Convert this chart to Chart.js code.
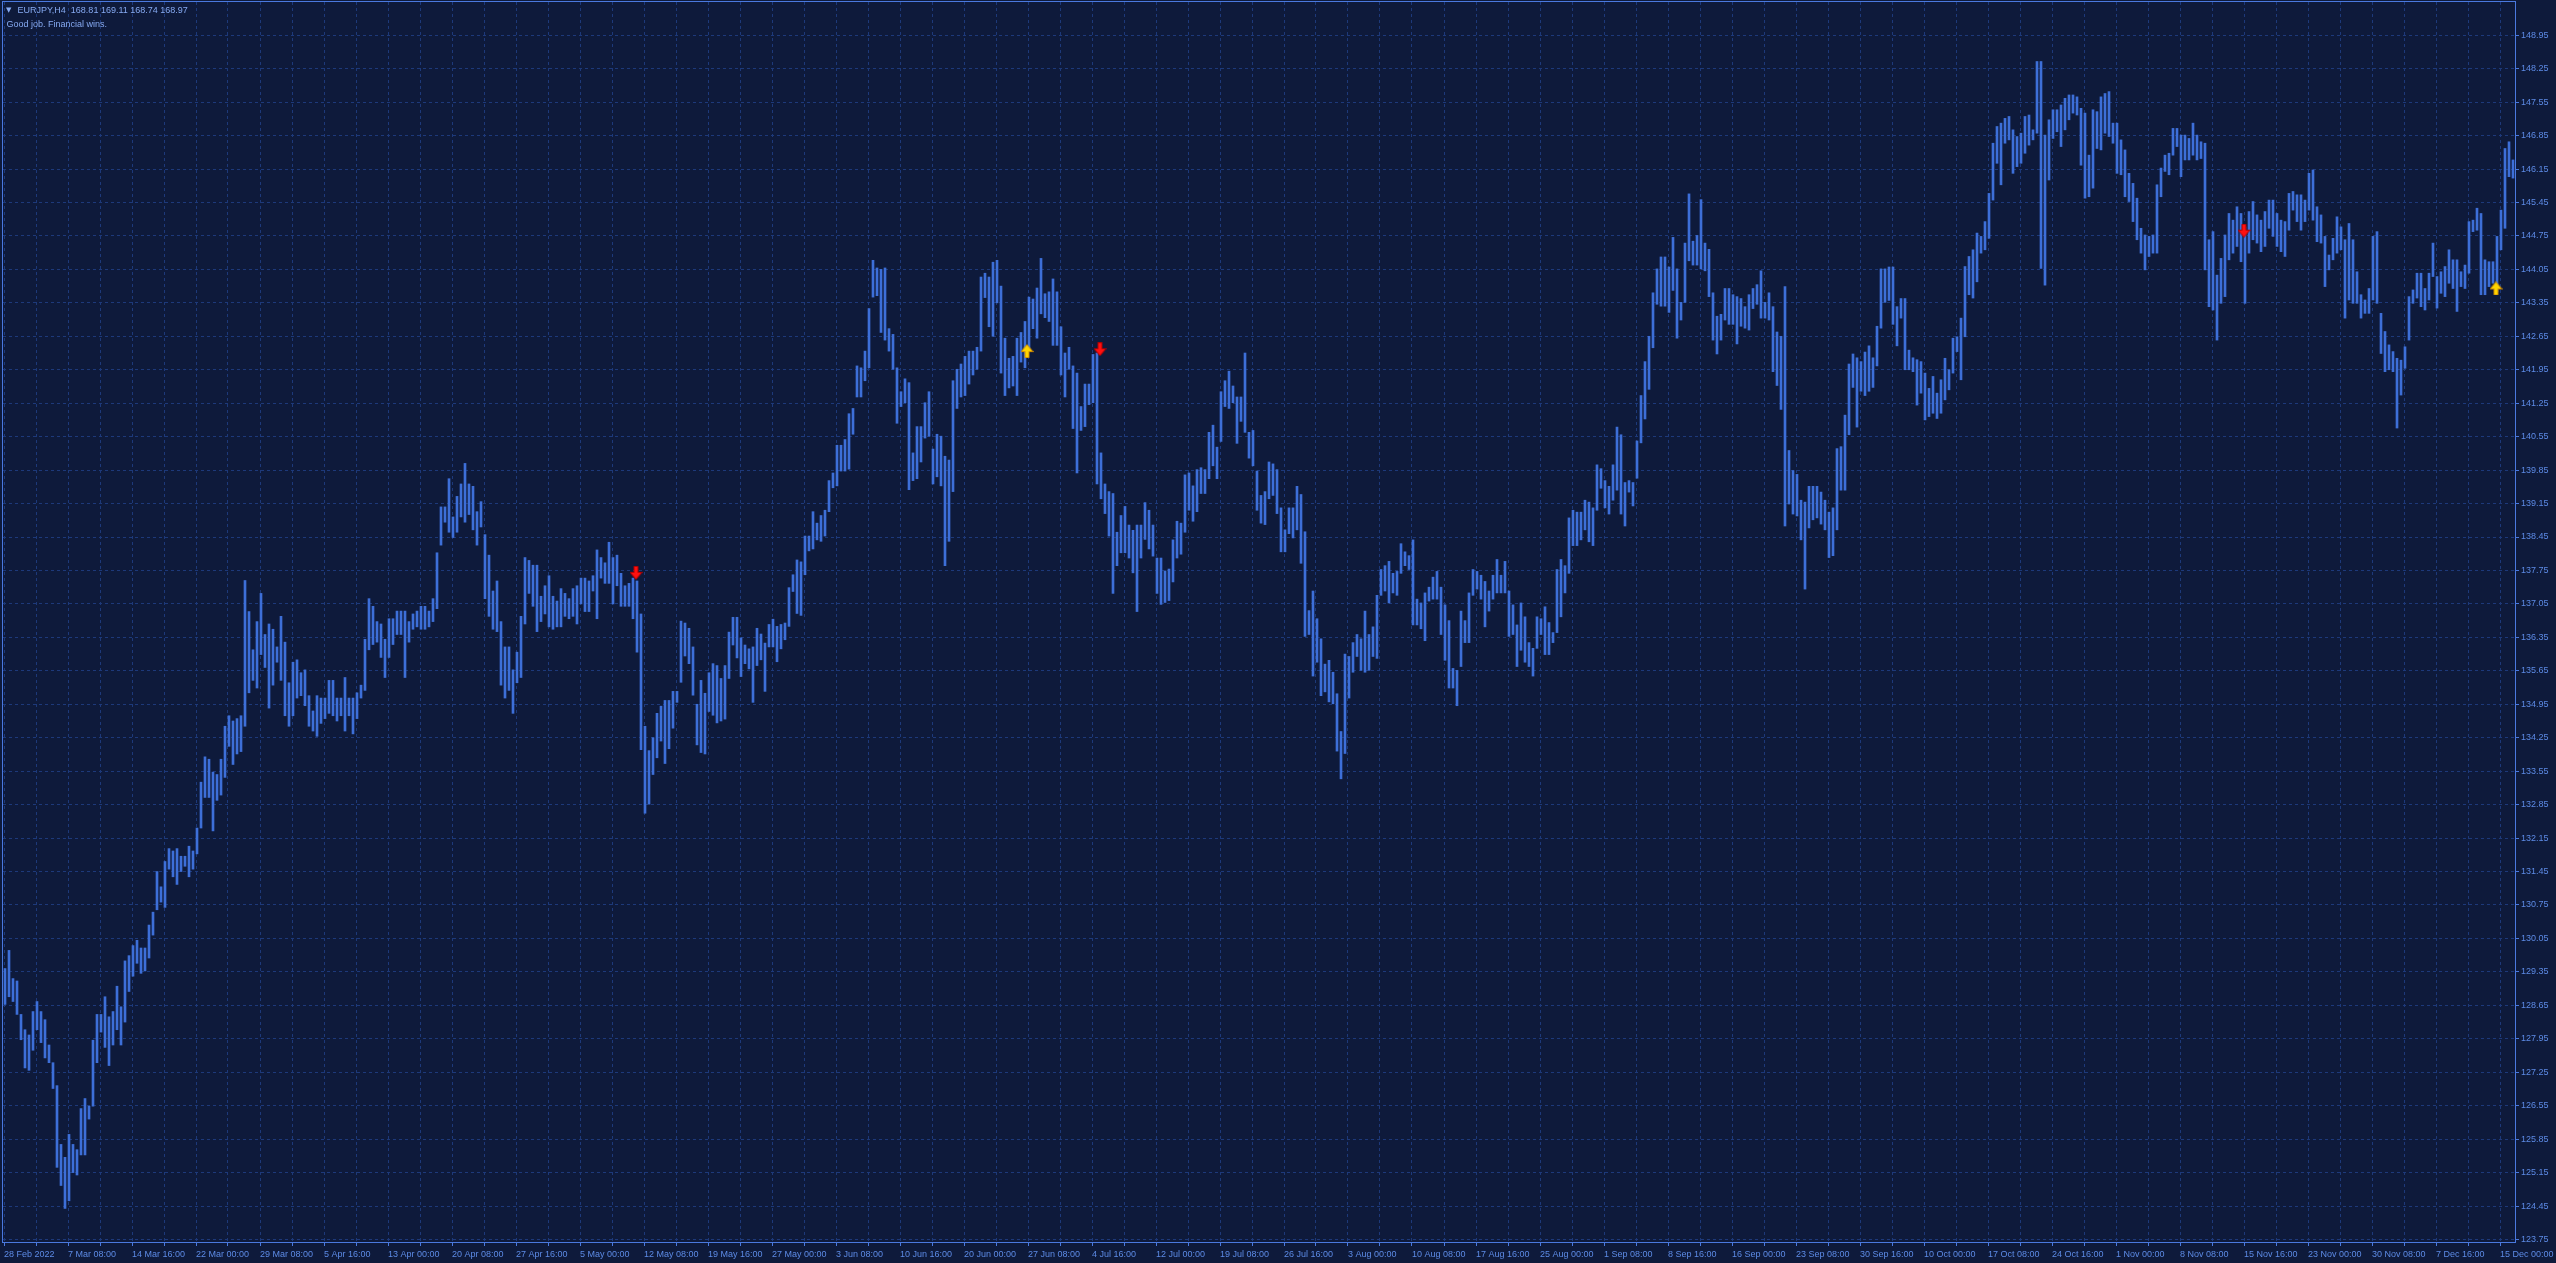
<!DOCTYPE html>
<html>
<head>
<meta charset="utf-8">
<title>EURJPY,H4</title>
<script src="https://cdn.jsdelivr.net/npm/chart.js@4.4.1/dist/chart.umd.min.js"></script>
<style>
  html, body { margin: 0; padding: 0; background: #0e1a3b; overflow: hidden; }
  #wrap { position: relative; width: 2556px; height: 1263px; }
</style>
</head>
<body>
<div id="wrap"><canvas id="chart"></canvas></div>
<script>
// header texts
const symbolLine = 'EURJPY,H4  168.81 169.11 168.74 168.97';
const commentLine = 'Good job. Financial wins.';

// each entry = 2 H4 bars (high / low of the pair), one row = one time label step (32 bars)
const barsPerGroup = 2;
const highs = [
  129.42, 129.80, 129.21, 129.16, 128.46, 128.14, 128.03, 128.52, 128.73, 128.52, 128.35, 127.82, 127.45, 126.97, 125.74, 125.47,
  125.95, 125.74, 125.63, 126.49, 126.70, 126.54, 127.92, 128.46, 128.46, 128.83, 128.41, 128.52, 129.05, 128.62, 129.58, 129.69,
  129.90, 130.01, 129.85, 129.85, 130.33, 130.60, 131.45, 131.13, 131.66, 131.93, 131.88, 131.93, 131.77, 131.77, 131.98, 131.88,
  132.36, 133.32, 133.85, 133.80, 133.53, 133.48, 133.80, 134.49, 134.71, 134.60, 134.65, 134.71, 137.54, 136.89, 136.09, 136.68,
  137.27, 136.41, 136.63, 136.52, 136.15, 136.79, 136.25, 135.40, 135.83, 135.88, 135.61, 135.67, 135.13, 134.81, 135.13, 135.08,
  135.08, 135.45, 135.45, 135.08, 135.08, 135.51, 135.08, 135.08, 135.19, 135.35, 136.31, 137.16, 137.00, 136.68, 136.63, 136.31,
  136.74, 136.74, 136.90, 136.90, 136.90, 136.68, 136.84, 136.90, 137.00, 137.00, 136.90, 137.16, 138.12, 139.08, 139.08, 139.67,
  138.87, 139.30, 139.56, 139.99, 139.56, 139.51, 138.98, 139.19, 138.50, 138.07, 137.32, 137.53, 136.68, 136.15, 136.15, 135.67,
  136.04, 136.79, 138.02, 137.96, 137.86, 137.86, 137.21, 137.43, 137.64, 137.21, 137.11, 137.37, 137.27, 137.16, 137.37, 137.43,
  137.59, 137.59, 137.53, 137.64, 138.18, 138.02, 137.91, 138.34, 138.02, 138.07, 137.69, 137.43, 137.48, 137.59, 137.53, 136.84,
  134.49, 133.98, 134.25, 134.76, 134.91, 135.03, 135.03, 135.22, 135.22, 136.69, 136.65, 136.54, 136.15, 134.95, 135.45, 135.18,
  135.61, 135.80, 135.76, 135.49, 135.76, 136.46, 136.77, 136.77, 136.34, 136.19, 136.11, 136.15, 136.54, 136.42, 136.23, 136.62,
  136.73, 136.58, 136.62, 136.65, 137.39, 137.66, 137.97, 137.93, 138.47, 138.47, 138.98, 138.74, 138.90, 139.01, 139.63, 139.79,
  140.37, 140.37, 140.49, 141.03, 141.14, 142.03, 141.99, 142.34, 143.23, 144.24, 144.08, 144.05, 144.08, 142.81, 142.69, 141.99,
  141.49, 141.76, 141.68, 140.21, 140.76, 140.76, 141.26, 141.49, 140.29, 140.60, 140.56, 140.14, 140.06, 141.72, 141.96, 142.07,
  142.23, 142.34, 142.34, 142.42, 143.89, 143.97, 143.89, 144.20, 144.24, 143.70, 142.61, 142.19, 142.23, 142.61, 142.73, 142.96,
  143.47, 143.43, 143.66, 144.28, 143.54, 143.58, 143.85, 143.58, 142.85, 142.30, 142.42, 142.03, 141.88, 141.18, 141.65, 141.65,
  142.27, 142.30, 140.21, 139.56, 139.40, 139.36, 138.55, 138.90, 139.09, 138.70, 138.59, 138.70, 138.70, 139.17, 139.01, 138.70,
  138.01, 138.01, 137.74, 137.78, 138.39, 138.78, 138.74, 139.75, 139.79, 139.52, 139.86, 139.90, 139.86, 140.64, 140.79, 140.33,
  141.49, 141.72, 141.92, 141.61, 141.38, 141.38, 142.30, 140.64, 140.68, 139.83, 139.32, 139.40, 140.02, 139.98, 139.86, 139.06,
  138.60, 139.06, 139.06, 139.51, 139.34, 138.56, 136.91, 137.32, 136.74, 136.32, 135.79, 135.87, 135.62, 135.17, 134.38, 136.00,
  135.95, 136.24, 136.41, 136.32, 136.90, 136.41, 136.57, 137.23, 137.77, 137.85, 137.94, 137.69, 137.73, 138.31, 138.14, 138.06,
  138.39, 137.15, 137.07, 137.28, 137.40, 137.61, 137.73, 137.40, 137.03, 136.70, 135.70, 135.66, 136.90, 136.70, 137.28, 137.77,
  137.73, 137.65, 137.52, 137.32, 137.65, 137.98, 137.65, 137.94, 137.32, 137.03, 136.61, 137.07, 136.78, 136.24, 136.12, 136.78,
  136.74, 136.99, 136.66, 136.45, 137.77, 137.98, 137.85, 138.85, 139.01, 138.97, 138.97, 139.22, 139.18, 139.06, 139.96, 139.88,
  139.63, 139.51, 139.96, 140.75, 140.59, 139.59, 139.63, 139.59, 140.46, 141.41, 142.12, 142.65, 143.56, 144.06, 144.31, 144.31,
  144.10, 144.72, 144.06, 143.36, 144.60, 145.63, 144.64, 144.76, 145.51, 144.60, 144.47, 143.56, 143.07, 143.11, 143.65, 143.65,
  143.52, 143.48, 143.44, 143.27, 143.52, 143.65, 143.73, 144.02, 143.36, 143.56, 143.27, 142.74, 142.65, 143.69, 140.26, 139.84,
  139.76, 139.22, 139.18, 139.51, 139.51, 139.51, 139.39, 139.22, 138.97, 139.06, 140.30, 140.34, 141.00, 142.07, 142.28, 142.20,
  142.12, 142.32, 142.45, 142.20, 142.86, 144.06, 144.06, 144.10, 144.10, 143.27, 143.44, 143.44, 142.36, 142.20, 142.16, 142.12,
  141.88, 141.56, 141.81, 141.46, 141.74, 142.19, 141.95, 142.61, 142.64, 143.03, 144.11, 144.32, 144.46, 144.81, 144.74, 145.05,
  145.64, 146.69, 147.04, 147.11, 147.21, 147.25, 146.97, 146.83, 146.90, 147.25, 147.28, 146.97, 148.40, 148.40, 146.86, 147.18,
  147.39, 147.39, 147.49, 147.63, 147.70, 147.70, 147.66, 147.42, 147.32, 146.44, 147.39, 147.35, 147.66, 147.73, 147.77, 147.11,
  147.11, 146.76, 146.55, 146.06, 145.85, 145.54, 144.91, 144.77, 144.74, 144.77, 145.82, 146.17, 146.44, 146.48, 147.00, 147.00,
  146.86, 146.86, 146.79, 147.11, 146.86, 146.72, 146.69, 144.67, 144.84, 143.93, 144.28, 144.77, 145.22, 145.08, 145.36, 145.22,
  144.94, 145.26, 145.47, 145.19, 145.08, 145.26, 145.50, 145.50, 145.22, 145.08, 145.05, 145.64, 145.68, 145.61, 145.61, 145.50,
  146.06, 146.13, 145.36, 145.19, 144.74, 144.35, 144.70, 145.15, 144.94, 144.67, 145.01, 144.67, 144.00, 143.52, 143.41, 143.65,
  144.74, 144.84, 143.13, 142.75, 142.47, 142.33, 142.19, 142.15, 142.43, 143.48, 143.62, 143.97, 143.97, 143.65, 143.97, 144.60,
  143.90, 144.00, 144.11, 144.46, 144.25, 144.25, 144.00, 144.14, 145.05, 145.08, 145.33, 145.22, 144.25, 144.21, 144.21, 144.74,
  145.29, 146.58, 146.72, 146.34
];
const lows = [
  128.67, 128.83, 128.73, 128.46, 127.93, 127.34, 127.29, 127.71, 128.14, 127.87, 127.55, 127.45, 126.91, 125.26, 124.88, 124.40,
  124.56, 125.15, 125.10, 125.52, 125.52, 126.27, 126.54, 127.45, 128.09, 127.77, 127.39, 127.82, 128.14, 127.82, 128.30, 128.94,
  129.26, 129.53, 129.32, 129.37, 129.64, 130.12, 130.65, 130.81, 130.70, 131.50, 131.34, 131.18, 131.45, 131.56, 131.34, 131.50,
  131.82, 132.36, 133.00, 133.00, 132.30, 132.94, 133.05, 133.42, 134.07, 133.69, 133.91, 133.96, 134.49, 135.19, 135.45, 135.29,
  135.99, 135.72, 134.87, 135.35, 135.83, 135.45, 134.71, 134.49, 134.71, 135.08, 135.13, 134.92, 134.49, 134.39, 134.28, 134.55,
  134.65, 134.76, 134.71, 134.60, 134.71, 134.39, 134.71, 134.33, 134.65, 135.08, 135.24, 136.09, 136.20, 136.25, 135.93, 135.51,
  135.93, 136.20, 136.41, 136.41, 135.51, 136.25, 136.52, 136.57, 136.52, 136.52, 136.57, 136.68, 136.95, 138.28, 138.76, 138.55,
  138.44, 138.55, 138.87, 138.76, 138.92, 138.60, 138.28, 138.66, 137.16, 136.79, 136.52, 136.47, 135.35, 135.08, 135.24, 134.76,
  135.40, 135.51, 136.63, 137.27, 137.00, 136.47, 136.68, 136.84, 136.57, 136.52, 136.57, 136.57, 136.79, 136.74, 136.79, 136.63,
  137.05, 136.89, 136.89, 137.32, 136.74, 137.59, 137.48, 137.48, 137.05, 137.43, 137.00, 137.00, 137.00, 136.74, 136.04, 134.00,
  132.67, 132.86, 133.48, 133.83, 134.18, 133.71, 134.02, 134.45, 134.99, 135.41, 135.96, 135.80, 135.14, 134.10, 133.94, 133.91,
  134.80, 134.72, 134.56, 134.60, 134.64, 135.49, 136.19, 135.92, 135.53, 135.80, 135.69, 134.99, 135.76, 135.88, 135.22, 136.15,
  136.15, 135.84, 136.11, 136.30, 136.58, 137.31, 136.85, 136.81, 137.66, 138.16, 138.20, 138.39, 138.36, 138.47, 138.98, 139.48,
  139.52, 139.83, 139.83, 139.87, 140.60, 141.38, 141.38, 141.72, 141.99, 143.47, 143.50, 142.73, 142.57, 142.34, 141.96, 140.83,
  141.18, 141.26, 139.44, 139.63, 139.67, 140.02, 140.52, 140.56, 139.56, 139.71, 139.52, 137.85, 138.36, 139.40, 141.14, 141.38,
  141.41, 141.65, 141.84, 141.96, 142.34, 143.46, 142.85, 142.65, 143.35, 141.88, 141.41, 141.57, 141.61, 141.41, 142.11, 141.99,
  142.34, 142.81, 142.61, 143.12, 143.04, 142.96, 142.46, 142.46, 141.84, 141.38, 141.96, 140.72, 139.79, 140.68, 140.76, 141.22,
  141.26, 139.56, 139.25, 138.94, 138.47, 137.27, 137.85, 138.12, 138.12, 138.01, 137.70, 136.89, 138.01, 138.40, 138.20, 138.05,
  137.27, 137.04, 137.08, 137.12, 137.51, 138.01, 138.09, 138.55, 139.01, 138.78, 138.98, 139.36, 139.36, 139.67, 139.94, 139.67,
  140.45, 141.18, 141.14, 141.26, 140.41, 140.87, 140.64, 140.10, 139.94, 139.01, 138.74, 138.71, 139.25, 139.32, 138.94, 138.14,
  138.14, 138.52, 138.43, 138.60, 137.90, 136.37, 136.41, 135.54, 135.83, 135.13, 135.21, 135.00, 134.96, 133.97, 133.39, 133.92,
  135.08, 135.62, 135.95, 135.66, 135.62, 135.66, 135.95, 135.91, 137.23, 137.32, 137.07, 137.28, 137.23, 137.69, 137.85, 137.77,
  136.61, 136.61, 136.53, 136.28, 137.11, 137.15, 137.15, 136.41, 135.87, 135.29, 135.29, 134.92, 135.74, 136.24, 136.24, 137.23,
  137.36, 137.15, 136.57, 136.90, 137.15, 137.28, 137.28, 137.28, 136.37, 136.41, 135.74, 136.08, 135.83, 135.74, 135.54, 136.12,
  136.41, 135.99, 135.99, 136.24, 136.45, 136.78, 137.28, 137.69, 138.27, 138.27, 138.39, 138.60, 138.35, 138.27, 139.01, 139.47,
  139.06, 138.93, 139.22, 139.43, 138.93, 138.68, 139.39, 139.10, 139.68, 140.42, 140.92, 141.54, 142.41, 143.32, 143.28, 143.28,
  143.15, 143.61, 142.61, 142.99, 143.36, 144.23, 144.14, 144.14, 144.06, 144.02, 143.48, 142.57, 142.28, 142.57, 142.99, 142.90,
  142.90, 142.49, 142.86, 142.82, 142.78, 143.23, 143.32, 143.03, 143.03, 142.99, 141.91, 141.62, 141.12, 138.68, 139.14, 138.93,
  138.89, 138.39, 137.36, 138.64, 138.81, 138.85, 138.72, 138.60, 138.02, 138.06, 138.60, 139.43, 139.43, 140.59, 141.58, 140.75,
  141.50, 141.41, 141.50, 141.58, 142.03, 142.82, 143.36, 143.40, 142.90, 142.45, 143.03, 141.95, 141.95, 141.91, 141.21, 141.46,
  140.90, 140.97, 141.04, 140.93, 141.04, 141.32, 141.53, 141.88, 142.33, 141.74, 142.64, 143.52, 143.45, 143.79, 144.39, 144.46,
  144.70, 145.50, 146.27, 145.82, 146.69, 146.76, 146.06, 146.20, 146.27, 146.48, 146.65, 146.76, 146.90, 144.07, 143.72, 145.92,
  146.79, 146.93, 146.62, 146.97, 147.18, 147.32, 147.28, 146.23, 145.54, 145.57, 145.75, 146.58, 146.55, 146.90, 146.83, 146.69,
  146.06, 146.03, 145.57, 145.47, 145.05, 144.67, 144.39, 144.04, 144.32, 144.39, 144.39, 145.57, 146.10, 146.03, 146.44, 146.62,
  145.99, 146.34, 146.34, 146.44, 146.34, 146.37, 144.04, 143.27, 143.20, 142.57, 143.34, 143.48, 144.25, 144.39, 144.53, 144.21,
  143.34, 144.39, 144.67, 144.60, 144.42, 144.53, 144.91, 144.74, 144.53, 144.42, 144.32, 144.87, 145.29, 145.05, 144.87, 145.05,
  145.29, 145.08, 144.63, 144.60, 143.69, 144.04, 144.25, 144.39, 144.46, 143.03, 143.41, 143.34, 143.34, 143.03, 143.13, 143.13,
  143.41, 143.34, 142.29, 141.91, 141.95, 141.91, 140.73, 141.42, 141.98, 142.57, 143.34, 143.45, 143.27, 143.20, 143.41, 143.90,
  143.24, 143.55, 143.48, 143.76, 143.65, 143.17, 143.69, 143.65, 143.97, 144.84, 144.87, 143.52, 143.52, 143.69, 143.76, 143.58,
  144.46, 144.91, 145.99, 145.96
];

// time axis: one label every 32 bars
const timeLabels = [
  '28 Feb 2022', '7 Mar 08:00', '14 Mar 16:00', '22 Mar 00:00', '29 Mar 08:00',
  '5 Apr 16:00', '13 Apr 00:00', '20 Apr 08:00', '27 Apr 16:00', '5 May 00:00',
  '12 May 08:00', '19 May 16:00', '27 May 00:00', '3 Jun 08:00', '10 Jun 16:00',
  '20 Jun 00:00', '27 Jun 08:00', '4 Jul 16:00', '12 Jul 00:00', '19 Jul 08:00',
  '26 Jul 16:00', '3 Aug 00:00', '10 Aug 08:00', '17 Aug 16:00', '25 Aug 00:00',
  '1 Sep 08:00', '8 Sep 16:00', '16 Sep 00:00', '23 Sep 08:00', '30 Sep 16:00',
  '10 Oct 00:00', '17 Oct 08:00', '24 Oct 16:00', '1 Nov 00:00', '8 Nov 08:00',
  '15 Nov 16:00', '23 Nov 00:00', '30 Nov 08:00', '7 Dec 16:00', '15 Dec 00:00'
];
const barsPerLabel = 32;

// price axis
const priceTicks = [
  148.95, 148.25, 147.55, 146.85, 146.15, 145.45, 144.75, 144.05, 143.35, 142.65,
  141.95, 141.25, 140.55, 139.85, 139.15, 138.45, 137.75, 137.05, 136.35, 135.65,
  134.95, 134.25, 133.55, 132.85, 132.15, 131.45, 130.75, 130.05, 129.35, 128.65,
  127.95, 127.25, 126.55, 125.85, 125.15, 124.45, 123.75
];

// signal arrows (bar index, price)
const sellBars = [316, 548, 1120];
const sellPrices = [137.70, 142.38, 144.86];
const buyBars = [511.5, 1246];
const buyPrices = [142.34, 143.65];

(function () {
  const COLORS = {
    bar: '#3d6fd8',
    grid: '#1d397a',
    frame: '#4a79df',
    label: '#5d8be6',
    header: '#86aaf2'
  };
  const FONT = 'Liberation Sans, Arial, sans-serif';

  // small arrow sprites like the terminal's signal arrows
  function makeArrow(fill, edge, up) {
    var c = document.createElement('canvas');
    c.width = 13;
    c.height = 14;
    var ctx = c.getContext('2d');
    var pts = [[4.5, 0.5], [8.5, 0.5], [8.5, 6.5], [12.5, 6.5], [6.5, 13.5], [0.5, 6.5], [4.5, 6.5]];
    ctx.beginPath();
    pts.forEach(function (p, i) {
      var y = up ? 14 - p[1] : p[1];
      if (i === 0) ctx.moveTo(p[0], y);
      else ctx.lineTo(p[0], y);
    });
    ctx.closePath();
    ctx.fillStyle = fill;
    ctx.fill();
    ctx.strokeStyle = edge;
    ctx.lineWidth = 1;
    ctx.stroke();
    return c;
  }

  const sellArrow = makeArrow('#ff1010', '#b00000', false);
  const buyArrow = makeArrow('#ffd400', '#d08a00', true);

  // grid every 16 bars, labels every 32
  var gridBars = [];
  for (var b = 0; b <= (timeLabels.length - 1) * barsPerLabel; b += barsPerLabel / 2) gridBars.push(b);

  // frame + header text
  const chartDecor = {
    id: 'chartDecor',
    afterDraw: function (chart) {
      var a = chart.chartArea;
      var ctx = chart.ctx;
      ctx.save();
      ctx.strokeStyle = COLORS.frame;
      ctx.lineWidth = 1;
      ctx.strokeRect(a.left - 0.5, a.top - 0.5, a.right - a.left + 1, a.bottom - a.top + 1);

      ctx.fillStyle = COLORS.header;
      ctx.textBaseline = 'alphabetic';
      ctx.font = '7px DejaVu Sans';
      ctx.fillText('\u25BC', 6, 12);
      ctx.font = '9px ' + FONT;
      ctx.fillText(symbolLine, 17.5, 13);
      ctx.fillText(commentLine, 6.5, 26.5);
      ctx.restore();
    }
  };

  var ctx = document.getElementById('chart');
  new Chart(ctx, {
    data: {
      datasets: [
        {
          type: 'scatter',
          data: sellBars.map(function (x, i) { return { x: x, y: sellPrices[i] }; }),
          pointStyle: sellArrow,
          pointRadius: 7,
          order: 0
        },
        {
          type: 'scatter',
          data: buyBars.map(function (x, i) { return { x: x, y: buyPrices[i] }; }),
          pointStyle: buyArrow,
          pointRadius: 7,
          order: 0
        },
        {
          type: 'bar',
          data: highs.map(function (h, i) {
            return { x: i * barsPerGroup + (barsPerGroup - 1) / 2, y: [lows[i], h] };
          }),
          backgroundColor: COLORS.bar,
          borderWidth: 0,
          barThickness: 2,
          grouped: false,
          order: 1
        }
      ]
    },
    options: {
      responsive: true,
      maintainAspectRatio: false,
      animation: false,
      events: [],
      layout: { autoPadding: false, padding: { left: 3, top: 2, right: 0, bottom: 0 } },
      plugins: {
        legend: { display: false },
        tooltip: { enabled: false }
      },
      scales: {
        x: {
          type: 'linear',
          min: -0.5,
          max: 1255.5,
          offset: false,
          afterBuildTicks: function (scale) {
            scale.ticks = gridBars.map(function (v) { return { value: v }; });
          },
          afterFit: function (scale) {
            scale.height = 21;
            scale.paddingLeft = 0;
            scale.paddingRight = 0;
          },
          ticks: {
            autoSkip: false,
            maxRotation: 0,
            minRotation: 0,
            align: 'start',
            padding: 3,
            color: COLORS.label,
            font: { family: FONT, size: 9 },
            callback: function (value) {
              return value % barsPerLabel === 0 ? timeLabels[value / barsPerLabel] : '';
            }
          },
          grid: {
            offset: false,
            color: COLORS.grid,
            lineWidth: 1,
            tickLength: 4,
            tickColor: COLORS.frame
          },
          border: { display: false, dash: [3, 3] }
        },
        y: {
          type: 'linear',
          position: 'right',
          min: 123.698,
          max: 149.645,
          afterBuildTicks: function (scale) {
            scale.ticks = priceTicks.map(function (v) { return { value: v }; });
          },
          afterFit: function (scale) {
            scale.width = 41;
            scale.paddingTop = 0;
            scale.paddingBottom = 0;
          },
          ticks: {
            autoSkip: false,
            padding: 2,
            color: COLORS.label,
            font: { family: FONT, size: 9 },
            callback: function (value) { return Number(value).toFixed(2); }
          },
          grid: {
            color: COLORS.grid,
            lineWidth: 1,
            tickLength: 4,
            tickColor: COLORS.frame
          },
          border: { display: false, dash: [3, 3] }
        }
      }
    },
    plugins: [chartDecor]
  });
})();
</script>
</body>
</html>
